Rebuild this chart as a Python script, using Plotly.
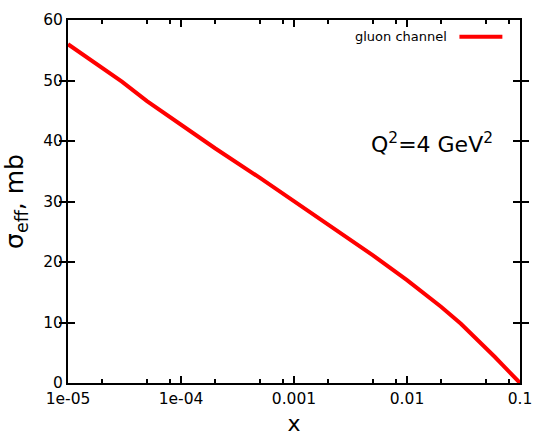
import plotly.graph_objects as go

# sigma_eff vs x, gluon channel, Q^2 = 4 GeV^2
x_vals = [1e-5, 2e-5, 3e-5, 5e-5, 1e-4, 2e-4, 5e-4, 1e-3, 2e-3, 5e-3,
          1e-2, 2e-2, 3e-2, 4e-2, 5e-2, 6e-2, 7e-2, 8e-2, 9e-2, 1e-1]
sigma_eff = [56.0, 52.1, 49.8, 46.6, 42.7, 38.8, 33.9, 30.1, 26.3, 21.1,
             17.0, 12.6, 9.8, 7.6, 5.8, 4.3, 3.0, 1.95, 0.9, 0.0]

x_ticks = [1e-5, 1e-4, 1e-3, 1e-2, 1e-1]
x_ticktext = ["1e-05", "1e-04", "0.001", "0.01", "0.1"]
x_minor = [m * d for d in [1e-5, 1e-4, 1e-3, 1e-2] for m in (2, 5, 8)]
y_ticks = [0, 10, 20, 30, 40, 50, 60]

font_name = "DejaVu Sans"

fig = go.Figure()

fig.add_trace(go.Scatter(
    x=x_vals,
    y=sigma_eff,
    mode="lines",
    line=dict(color="#ff0000", width=4),
    showlegend=False))

# invisible trace on a second x axis, only there to carry the minor ticks
fig.add_trace(go.Scatter(x=[x_vals[0]], y=[sigma_eff[0]], xaxis="x2",
                         mode="markers", marker=dict(opacity=0),
                         hoverinfo="skip", showlegend=False))

# legend drawn gnuplot style: text on the left, line sample on the right
fig.add_annotation(text="gluon channel", xref="paper", yref="paper",
                   x=0.842, y=0.954, xanchor="right", yanchor="middle",
                   showarrow=False, font=dict(size=13, color="black", family=font_name))
fig.add_shape(type="line", xref="paper", yref="paper",
              x0=0.866, x1=0.961, y0=0.954, y1=0.954,
              line=dict(color="#ff0000", width=4))

fig.add_annotation(text="Q<sup>2</sup>=4 GeV<sup>2</sup>", xref="paper", yref="paper",
                   x=0.944, y=0.661, xanchor="right", yanchor="middle",
                   showarrow=False, font=dict(size=22, color="black", family=font_name))

fig.update_xaxes(type="log",
                 range=[-5, -1],
                 tickmode="array",
                 tickvals=x_ticks,
                 ticktext=x_ticktext,
                 ticks="inside", ticklen=7, tickwidth=1.5, tickcolor="black",
                 showline=True, linecolor="black", linewidth=2, mirror="allticks",
                 showgrid=False, zeroline=False, automargin=False,
                 tickfont=dict(size=15.5, color="black", family=font_name),
                 title=dict(text="x", font=dict(size=22, color="black", family=font_name)))
fig.update_yaxes(range=[0, 60],
                 tickvals=y_ticks,
                 ticks="inside", ticklen=7, tickwidth=1.5, tickcolor="black",
                 showline=True, linecolor="black", linewidth=2, mirror="allticks",
                 showgrid=False, zeroline=False, automargin=False,
                 tickfont=dict(size=15.5, color="black", family=font_name),
                 title=dict(text="σ<sub>eff</sub>, mb",
                            font=dict(size=25, color="black", family=font_name)))

fig.update_layout(template="plotly_white",
                  width=545, height=436,
                  margin=dict(l=68, r=25, t=20, b=53),
                  plot_bgcolor="white", paper_bgcolor="white",
                  xaxis2=dict(type="log", range=[-5, -1], overlaying="x", anchor="y",
                              side="bottom",
                              tickmode="array", tickvals=x_minor, showticklabels=False,
                              ticks="inside", ticklen=4, tickwidth=1.5, tickcolor="black",
                              showline=True, linecolor="black", linewidth=2,
                              mirror="allticks", showgrid=False, zeroline=False,
                              automargin=False))

# drop the default page margin so the figure sits at the window's corner
fig.write_html("out.html", config={"displayModeBar": False},
               post_script="document.body.style.margin='0';")
